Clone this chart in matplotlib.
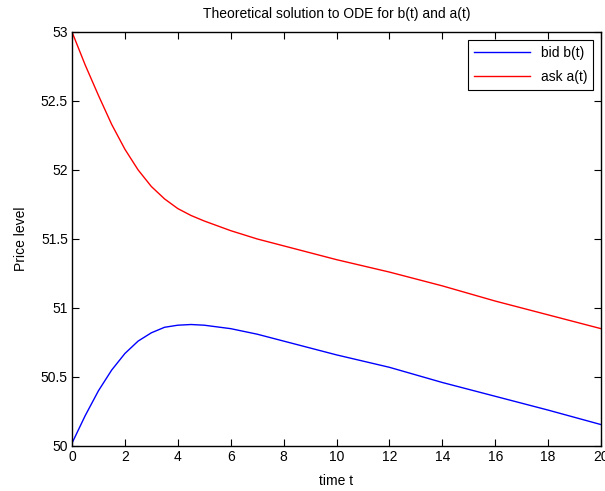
import numpy as np
import matplotlib
matplotlib.use('Agg')
import matplotlib.pyplot as plt

plt.rcParams['font.family'] = ['Liberation Sans', 'DejaVu Sans']

# values
t = [0, 0.5, 1, 1.5, 2, 2.5, 3, 3.5, 4, 4.5, 5, 6, 7, 8, 10, 12, 14, 16, 18, 20]
bid = [50.02, 50.22, 50.40, 50.55, 50.67, 50.76, 50.82, 50.86, 50.875, 50.88,
       50.875, 50.85, 50.81, 50.76, 50.66, 50.57, 50.46, 50.36, 50.26, 50.155]
ask = [53.0, 52.76, 52.54, 52.33, 52.15, 52.00, 51.88, 51.79, 51.72, 51.67,
       51.63, 51.56, 51.50, 51.45, 51.35, 51.26, 51.16, 51.05, 50.95, 50.85]

fig = plt.figure(figsize=(6.05, 4.91), dpi=100)
ax = fig.add_axes([0.119, 0.0917, 0.8744, 0.8433])

ax.plot(t, bid, c='b', lw=1, label='bid b(t)')
ax.plot(t, ask, c='r', lw=1, label='ask a(t)')

ax.set_xlim(0, 20)
ax.set_ylim(50, 53)
ax.set_xticks(range(0, 21, 2))
ax.set_yticks(np.arange(50, 53.01, 0.5))
ax.set_yticklabels(['50', '50.5', '51', '51.5', '52', '52.5', '53'])
ax.tick_params(direction='in', top=True, right=True, length=5, labelsize=10, pad=3)
for s in ax.spines.values():
    s.set_linewidth(1)

ax.set_title('Theoretical solution to ODE for b(t) and a(t)', fontsize=10, pad=10)
ax.set_xlabel('time t', fontsize=10, labelpad=7)
ax.set_ylabel('Price level', fontsize=10, labelpad=9)

leg = ax.legend(loc='upper right', fontsize=10, fancybox=False, edgecolor='k',
                framealpha=1, handlelength=4, borderaxespad=0.6, labelspacing=0.75)
leg.get_frame().set_linewidth(0.8)

fig.savefig('out.png', dpi=100)
